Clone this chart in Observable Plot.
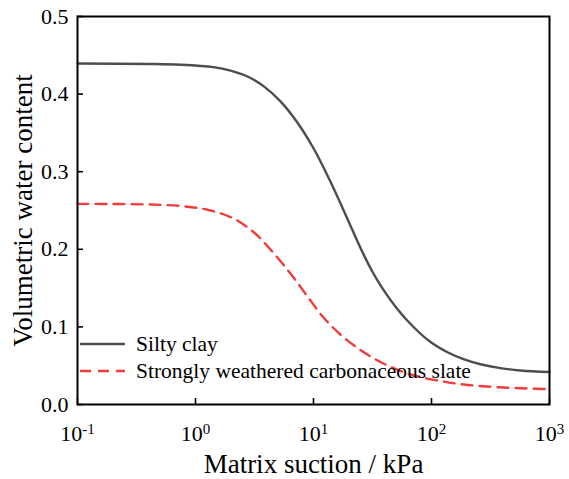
<!DOCTYPE html>
<html><head><meta charset="utf-8">
<script src="https://cdn.jsdelivr.net/npm/d3@7"></script>
<script src="https://cdn.jsdelivr.net/npm/@observablehq/plot@0.6"></script>
<style>
body{margin:0;background:#fff}
#wrap{position:relative;width:569px;height:479px}
#legend{position:absolute;left:0;top:0;pointer-events:none}
</style>
</head><body><div id="wrap"></div>
<script>
// Data
const suctionSilty = [0.1, 0.416, 0.746, 1.42, 1.98, 2.76, 3.77, 5.25, 7.32, 10.0, 13.9, 19.4, 22.7, 26.5, 31.6, 37.0, 51.5, 70.4, 98.1, 136.6, 186.7, 260, 362.5, 568, 1000];
const thetaSilty   = [0.4394, 0.4388, 0.4378, 0.4347, 0.4303, 0.4227, 0.4103, 0.3906, 0.3631, 0.3302, 0.2874, 0.2392, 0.2160, 0.1938, 0.1711, 0.1536, 0.1229, 0.0999, 0.0805, 0.0674, 0.0585, 0.0519, 0.0475, 0.0439, 0.0418];
const suctionSlate = [0.1, 0.416, 0.791, 1.34, 2.10, 3.10, 4.32, 6.38, 8.90, 12.15, 16.9, 22.7, 30.4, 42.4, 66.4, 112.4, 186.7, 362.5, 1000];
const thetaSlate   = [0.2586, 0.2577, 0.2555, 0.2500, 0.2397, 0.2223, 0.1997, 0.1688, 0.1392, 0.1121, 0.0902, 0.0747, 0.0619, 0.0503, 0.0387, 0.0309, 0.0258, 0.0223, 0.0197];
const seriesNames  = ["Silty clay", "Strongly weathered carbonaceous slate"];
const seriesColors = ["#4d4d4d", "#f03c3c"];
const seriesDash   = [null, "11,7"];
const xTicks   = [0.1, 1, 10, 100, 1000];
const xTickExp = ["-1", "0", "1", "2", "3"];
const yTicks   = [0, 0.1, 0.2, 0.3, 0.4, 0.5];
const xLabel = "Matrix suction / kPa";
const yLabel = "Volumetric water content";

const silty = suctionSilty.map((s, i) => ({suction: s, theta: thetaSilty[i]}));
const slate = suctionSlate.map((s, i) => ({suction: s, theta: thetaSlate[i]}));
const FONT = "'Liberation Serif', 'Times New Roman', serif";

const chart = Plot.plot({
  width: 569, height: 479,
  marginLeft: 77, marginRight: 20, marginTop: 16, marginBottom: 75,
  style: {fontFamily: FONT, fontSize: "22px", color: "black", background: "white"},
  x: {type: "log", domain: [0.1, 1000]},
  y: {domain: [0, 0.5]},
  marks: [
    Plot.line(slate, {x: "suction", y: "theta", stroke: seriesColors[1], strokeWidth: 2.4, strokeDasharray: seriesDash[1], curve: "catmull-rom"}),
    Plot.line(silty, {x: "suction", y: "theta", stroke: seriesColors[0], strokeWidth: 2.4, curve: "catmull-rom"}),
    Plot.axisX(xTicks, {tickSize: -6, tickPadding: 27, strokeWidth: 1.6,
      tickFormat: d => xTickExp[xTicks.indexOf(d)],
      label: xLabel, labelArrow: "none", labelAnchor: "center", labelOffset: 68}),
    Plot.axisY(yTicks, {tickSize: -6, tickPadding: 15, strokeWidth: 1.6,
      tickFormat: d => d.toFixed(1),
      label: yLabel, labelArrow: "none", labelAnchor: "center", labelOffset: 65}),
    Plot.frame({stroke: "black", strokeWidth: 2})
  ]
});

// superscripts on x tick labels
chart.querySelectorAll('g[aria-label="x-axis tick label"] text').forEach(t => {
  const e = t.textContent;
  t.textContent = "10";
  const sup = document.createElementNS("http://www.w3.org/2000/svg", "tspan");
  sup.setAttribute("dy", "-0.5em");
  sup.setAttribute("font-size", "15");
  sup.textContent = e;
  t.appendChild(sup);
});
chart.querySelectorAll('g[aria-label="x-axis label"] text, g[aria-label="y-axis label"] text').forEach(t => {
  t.setAttribute("font-size", "27");
  t.textContent = t.textContent.replace(/\s*[→↑←↓]\s*/g, "");
});

const wrap = document.getElementById("wrap");
wrap.appendChild(chart);

// legend overlay
const ns = "http://www.w3.org/2000/svg";
const lg = document.createElementNS(ns, "svg");
lg.setAttribute("id", "legend");
lg.setAttribute("width", 569); lg.setAttribute("height", 479);
seriesNames.forEach((name, i) => {
  const y = 344 + i * 27;
  const ln = document.createElementNS(ns, "line");
  ln.setAttribute("x1", 80); ln.setAttribute("x2", 125);
  ln.setAttribute("y1", y); ln.setAttribute("y2", y);
  ln.setAttribute("stroke", seriesColors[i]); ln.setAttribute("stroke-width", 2.4);
  if (seriesDash[i]) ln.setAttribute("stroke-dasharray", seriesDash[i]);
  lg.appendChild(ln);
  const tx = document.createElementNS(ns, "text");
  tx.setAttribute("x", 136); tx.setAttribute("y", y + 7);
  tx.setAttribute("font-family", FONT); tx.setAttribute("font-size", 21.5);
  tx.textContent = name;
  lg.appendChild(tx);
});
wrap.appendChild(lg);
</script>
</body></html>
